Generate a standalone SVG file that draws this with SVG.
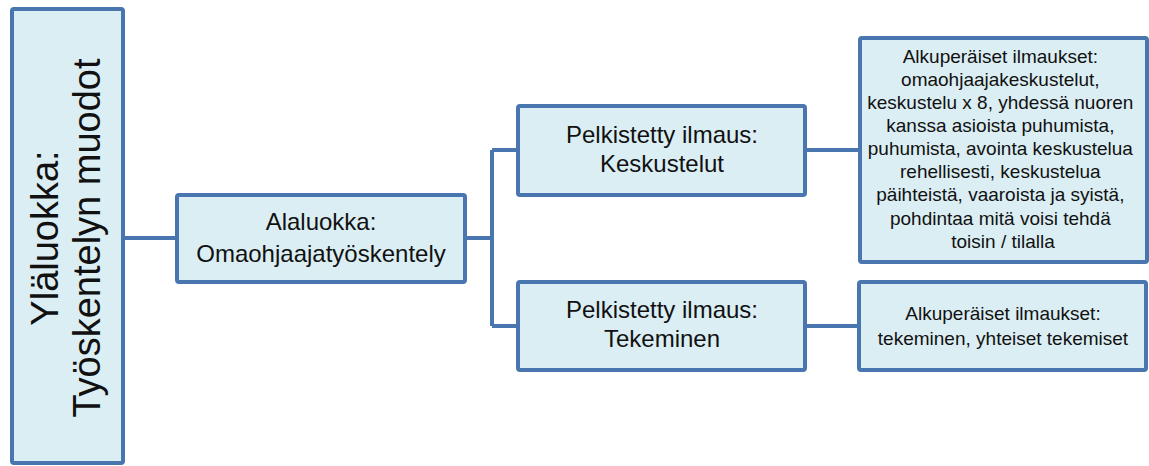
<svg xmlns="http://www.w3.org/2000/svg" width="1149" height="466" viewBox="0 0 1149 466">
<style>
.box{fill:#DBEEF4;stroke:#4A76AF;stroke-width:4;}
.con{fill:none;stroke:#4A76AF;stroke-width:4;}
text{font-family:"Liberation Sans",Arial,sans-serif;fill:#111;text-anchor:middle;}
.t24{font-size:24px;}
.t19{font-size:19px;}
</style>
<rect width="1149" height="466" fill="#fff"/>
<g id="connectors">
<path class="con" d="M123 238 H177"/>
<path class="con" d="M465 238 H492"/>
<path class="con" d="M492 150 V326"/>
<path class="con" d="M492 150 H518"/>
<path class="con" d="M492 326 H518"/>
<path class="con" d="M805 150 H860"/>
<path class="con" d="M805 326 H859"/>
</g>
<g id="ylaluokka">
<rect class="box" x="12" y="9" width="111" height="454" rx="2"/>
<text transform="translate(67,238) rotate(-90)" style="font-size:38px"><tspan x="0" y="-9">Yläluokka:</tspan><tspan x="0" y="33">Työskentelyn muodot</tspan></text>
</g>
<g id="alaluokka">
<rect class="box" x="177" y="195" width="288" height="87" rx="2"/>
<text class="t24"><tspan x="321" y="230">Alaluokka:</tspan><tspan x="321" y="262">Omaohjaajatyöskentely</tspan></text>
</g>
<g id="keskustelut">
<rect class="box" x="518" y="106" width="287" height="89" rx="2"/>
<text class="t24"><tspan x="662" y="143">Pelkistetty ilmaus:</tspan><tspan x="662" y="172">Keskustelut</tspan></text>
</g>
<g id="tekeminen">
<rect class="box" x="518" y="282" width="287" height="88" rx="2"/>
<text class="t24"><tspan x="662" y="318">Pelkistetty ilmaus:</tspan><tspan x="662" y="347">Tekeminen</tspan></text>
</g>
<g id="alkuperaiset1">
<rect class="box" x="860" y="38" width="287" height="224" rx="2"/>
<text class="t19">
<tspan x="1003" y="63">Alkuperäiset ilmaukset:</tspan>
<tspan x="1003" y="86">omaohjaajakeskustelut,</tspan>
<tspan x="1003" y="109">keskustelu x 8, yhdessä nuoren</tspan>
<tspan x="1003" y="132">kanssa asioista puhumista,</tspan>
<tspan x="1003" y="155">puhumista, avointa keskustelua</tspan>
<tspan x="1003" y="178">rehellisesti, keskustelua</tspan>
<tspan x="1003" y="201">päihteistä, vaaroista ja syistä,</tspan>
<tspan x="1003" y="225">pohdintaa mitä voisi tehdä</tspan>
<tspan x="1003" y="248">toisin / tilalla</tspan>
</text>
</g>
<g id="alkuperaiset2">
<rect class="box" x="859" y="282" width="287" height="88" rx="2"/>
<text class="t19"><tspan x="1003" y="320">Alkuperäiset ilmaukset:</tspan><tspan x="1003" y="345">tekeminen, yhteiset tekemiset</tspan></text>
</g>
</svg>
